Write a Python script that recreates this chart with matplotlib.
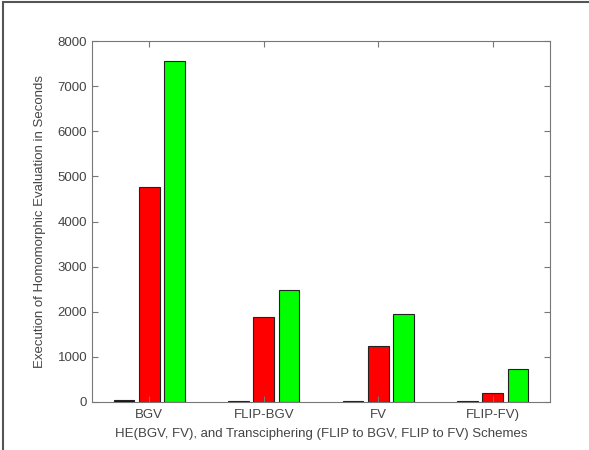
import matplotlib
matplotlib.use("Agg")
import matplotlib.pyplot as plt
from matplotlib.patches import Rectangle
import numpy as np

plt.rcParams['font.family'] = ['Liberation Sans', 'DejaVu Sans']

categories = ["BGV", "FLIP-BGV", "FV", "FLIP-FV)"]
series1 = [40, 15, 15, 15]        # dark blue
series2 = [4770, 1890, 1230, 200]  # red
series3 = [7550, 2480, 1960, 740]  # green
colors = ["#0000a0", "#ff0000", "#00ff00"]

fig = plt.figure(figsize=(5.89, 4.50), dpi=100)
fig.patches.append(Rectangle((3/589, -0.1), 1.2, 1.1 - 1.5/450, transform=fig.transFigure,
                             fill=False, edgecolor="#555555", linewidth=1.5, figure=fig))
ax = fig.add_axes([92/589, 1 - 402/450, (550 - 92)/589, (402 - 41)/450])

x = np.arange(1, len(categories) + 1)
offset = 0.222
w = 0.18
for vals, dx, c in zip([series1, series2, series3], [-offset, 0, offset], colors):
    ax.bar(x + dx, vals, width=w, color=c, edgecolor="#222222", linewidth=0.8)

ax.set_xlim(0.5, 4.5)
ax.set_ylim(0, 8000)
ax.set_yticks(np.arange(0, 8001, 1000))
ax.set_xticks(x)
ax.set_xticklabels(categories)
for s in ax.spines.values():
    s.set_color("#777777")
ax.tick_params(axis="both", direction="in", length=4, color="#777777",
               labelsize=9.5, labelcolor="#444444", top=True, right=True)
ax.tick_params(axis="x", pad=5)
ax.set_xlabel("HE(BGV, FV), and Transciphering (FLIP to BGV, FLIP to FV) Schemes",
              fontsize=9.5, color="#444444", labelpad=5)
ax.set_ylabel("Execution of Homomorphic Evaluation in Seconds", fontsize=9.5,
              color="#444444", labelpad=8)

fig.savefig("out.png", dpi=100)
